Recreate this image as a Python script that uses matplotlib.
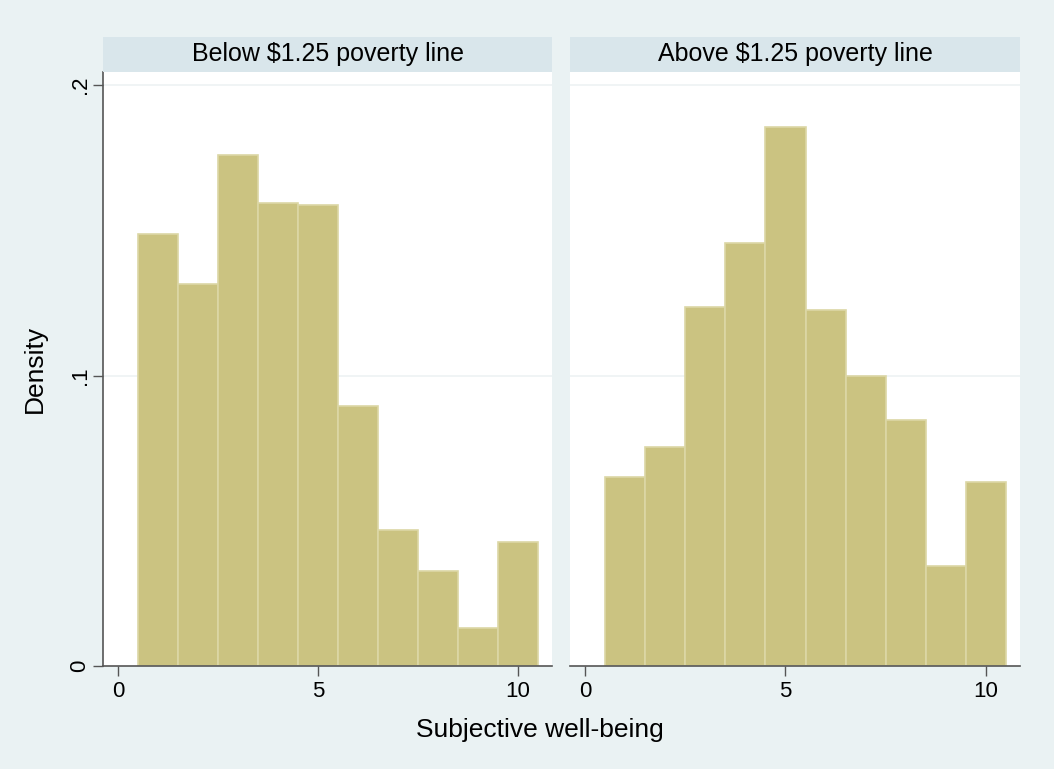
import matplotlib
matplotlib.use('Agg')
import matplotlib.pyplot as plt

# Histogram data (density per unit-width bin, centred on 1..10)
bin_centres = [1, 2, 3, 4, 5, 6, 7, 8, 9, 10]
below_density = [0.1487, 0.1315, 0.1759, 0.1594, 0.1587, 0.0895, 0.0468, 0.0327, 0.0131, 0.0427]
above_density = [0.0651, 0.0754, 0.1236, 0.1456, 0.1855, 0.1225, 0.0998, 0.0847, 0.0344, 0.0633]
panel_titles = ['Below $1.25 poverty line', 'Above $1.25 poverty line']
x_ticks = [0, 5, 10]
y_ticks = [0, 0.1, 0.2]
y_tick_labels = ['0', '.1', '.2']

BG = '#EAF2F3'
STRIP = '#D9E6EB'
BAR = '#CBC381'
BAR_EDGE = '#DCD7A6'
AXIS = '#555555'

plt.rcParams['font.family'] = ['Liberation Sans', 'DejaVu Sans']

fig = plt.figure(figsize=(10.54, 7.69), dpi=100, facecolor=BG)

W, H = 1054.0, 769.0
panels = [(103, 552), (570, 1020)]
top, bottom = 72, 666
strip_top = 37

for i, ((x0, x1), dens, title) in enumerate(zip(panels, [below_density, above_density], panel_titles)):
    ax = fig.add_axes([x0 / W, 1 - bottom / H, (x1 - x0) / W, (bottom - top) / H])
    ax.set_facecolor('white')
    ax.bar(bin_centres, dens, width=1.0, color=BAR, edgecolor=BAR_EDGE, linewidth=1.2, zorder=2)
    ax.set_xlim(-0.375, 10.85)
    ax.set_ylim(0, 0.2045)
    for yv in y_ticks[1:]:
        ax.axhline(yv, color='#EEF2F3', linewidth=1.2, zorder=1)
    ax.set_xticks(x_ticks)
    ax.set_xticklabels([str(t) for t in x_ticks], fontsize=16)
    ax.tick_params(axis='x', length=7, width=1, color=AXIS, pad=4)
    for side in ['top', 'right']:
        ax.spines[side].set_visible(False)
    ax.spines['bottom'].set_color(AXIS)
    ax.spines['bottom'].set_linewidth(1.2)
    if i == 0:
        ax.set_yticks(y_ticks)
        ax.set_yticklabels(y_tick_labels, fontsize=16, rotation=90, va='center')
        ax.tick_params(axis='y', length=7, width=1, color=AXIS, pad=2)
        ax.spines['left'].set_color(AXIS)
        ax.spines['left'].set_linewidth(1.2)
        ax.set_ylabel('Density', fontsize=19, labelpad=16)
    else:
        ax.set_yticks([])
        ax.spines['left'].set_visible(False)

    # panel title strip
    sax = fig.add_axes([x0 / W, 1 - top / H, (x1 - x0) / W, (top - strip_top) / H])
    sax.set_facecolor(STRIP)
    sax.set_xticks([])
    sax.set_yticks([])
    for s in sax.spines.values():
        s.set_visible(False)
    sax.text(0.5, 0.5, title, ha='center', va='center', fontsize=18, transform=sax.transAxes)

fig.text(540 / W, 1 - 730 / H, 'Subjective well-being', ha='center', va='center', fontsize=19)

fig.savefig('out.png', dpi=100, facecolor=BG)
